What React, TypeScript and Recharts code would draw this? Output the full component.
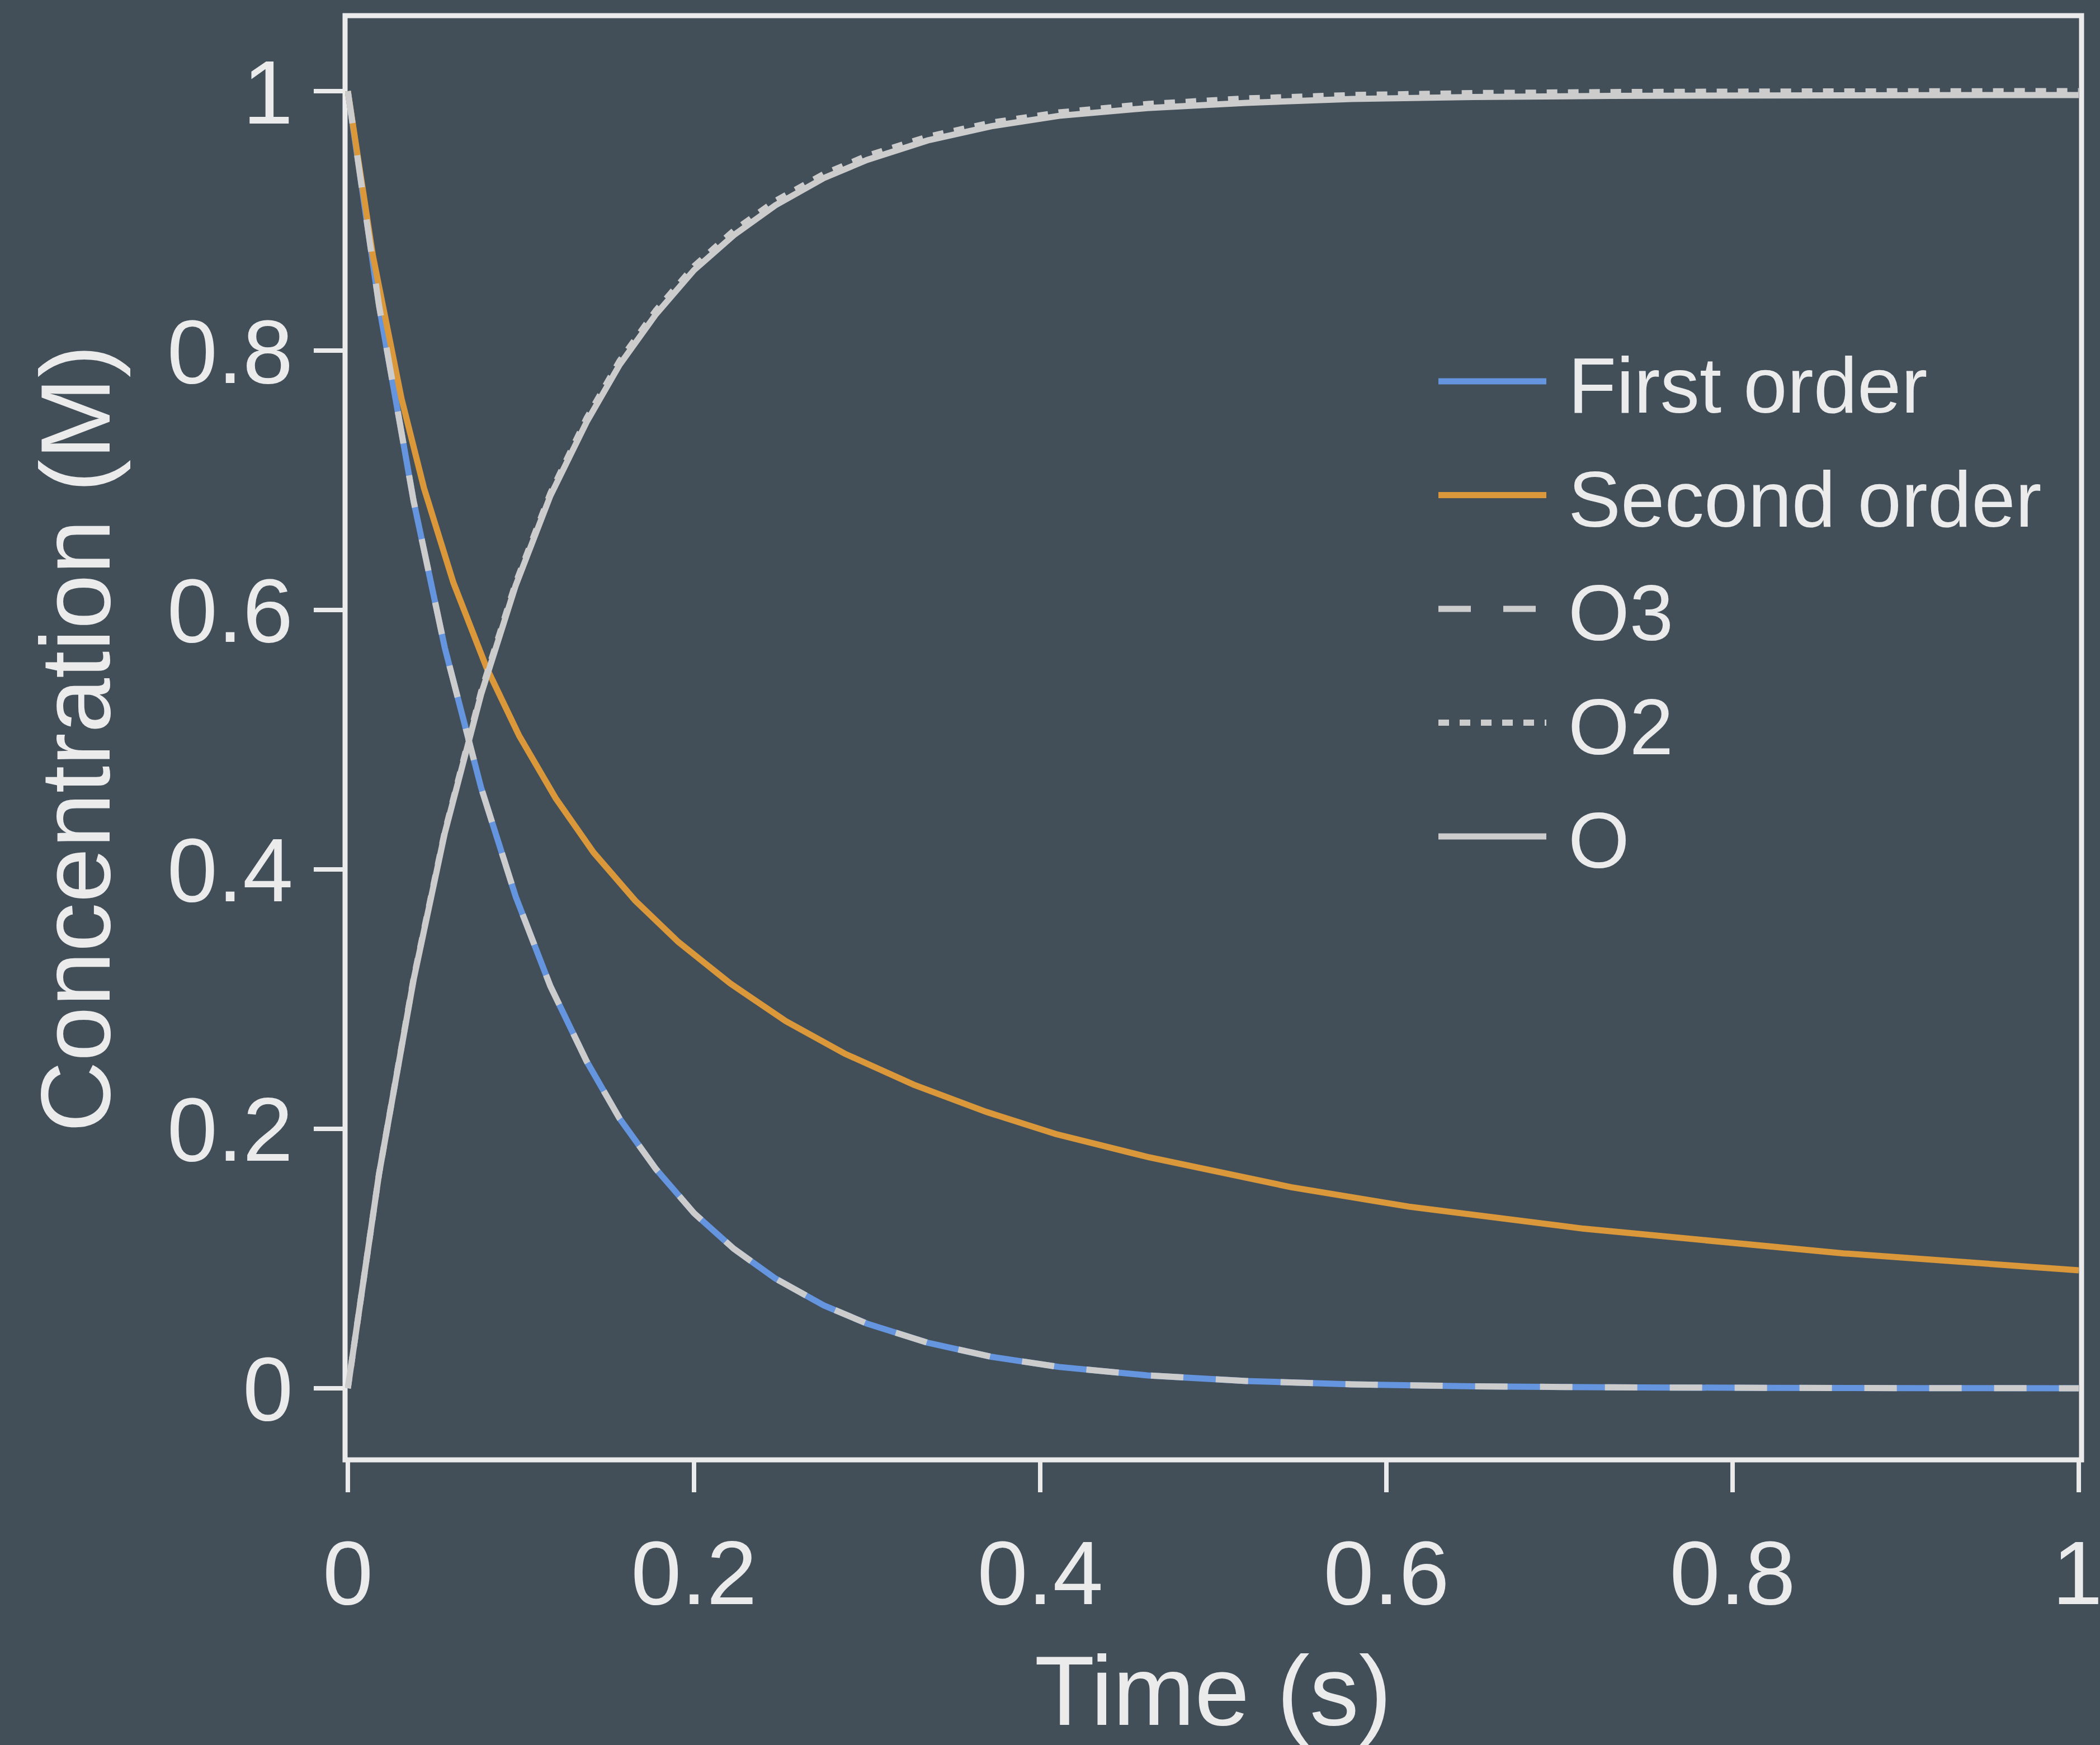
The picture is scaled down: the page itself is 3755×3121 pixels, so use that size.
import { LineChart, Line, XAxis, YAxis, Legend, Label, ReferenceArea } from 'recharts';

// time points (s) for the first-order / ozone species curves
const firstTimes = [0, 0.018, 0.038, 0.056, 0.077, 0.097, 0.117, 0.138, 0.157, 0.178, 0.2, 0.223, 0.247, 0.275, 0.3, 0.335, 0.372, 0.411, 0.462, 0.519, 0.58, 0.65, 0.73, 0.82, 0.91, 1.0];
const firstOrder = [1, 0.835, 0.684, 0.571, 0.463, 0.379, 0.31, 0.252, 0.208, 0.169, 0.135, 0.1075, 0.0846, 0.0639, 0.0498, 0.0351, 0.0242, 0.0164, 0.0099, 0.0056, 0.003, 0.0015, 0.0007, 0.0003, 0.0001, 0];
const o3 = [1, 0.835, 0.684, 0.571, 0.463, 0.379, 0.31, 0.252, 0.208, 0.169, 0.135, 0.1075, 0.0846, 0.0639, 0.0498, 0.0351, 0.0242, 0.0164, 0.0099, 0.0056, 0.003, 0.0015, 0.0007, 0.0003, 0.0001, 0];
const o2 = [0, 0.165, 0.316, 0.429, 0.537, 0.621, 0.69, 0.748, 0.792, 0.831, 0.865, 0.8925, 0.9154, 0.9361, 0.9502, 0.9649, 0.9758, 0.9836, 0.9901, 0.9944, 0.997, 0.9985, 0.9993, 0.9997, 0.9999, 1.0];
const oAtom = [0, 0.165, 0.315, 0.428, 0.535, 0.619, 0.688, 0.745, 0.789, 0.828, 0.862, 0.889, 0.912, 0.933, 0.947, 0.962, 0.973, 0.981, 0.987, 0.991, 0.994, 0.9955, 0.9963, 0.9967, 0.9969, 0.997];

// second-order curve has its own (coarser) time steps
const secondTimes = [0, 0.0145, 0.031, 0.044, 0.061, 0.08, 0.099, 0.12, 0.142, 0.166, 0.191, 0.221, 0.253, 0.287, 0.327, 0.369, 0.409, 0.463, 0.545, 0.613, 0.714, 0.864, 1.0];
const secondOrder = [1, 0.873, 0.763, 0.694, 0.621, 0.556, 0.503, 0.455, 0.413, 0.376, 0.344, 0.312, 0.283, 0.258, 0.234, 0.213, 0.196, 0.178, 0.155, 0.14, 0.123, 0.104, 0.0909];

const xTicks = [0, 0.2, 0.4, 0.6, 0.8, 1];
const yTicks = [0, 0.2, 0.4, 0.6, 0.8, 1];

const BG = '#424F59';
const FG = '#EBEBEB';
const FONT = '"Liberation Sans", Arial, Helvetica, sans-serif';

const zip = (ts: number[], vs: number[]) => ts.map((t, i) => ({ t, v: vs[i] }));

const series = [
  { name: 'First order', data: zip(firstTimes, firstOrder), color: '#6495DE', dash: undefined },
  { name: 'Second order', data: zip(secondTimes, secondOrder), color: '#DA983A', dash: undefined },
  { name: 'O3', data: zip(firstTimes, o3), color: '#CCCCCC', dash: '58 58' },
  { name: 'O2', data: zip(firstTimes, o2), color: '#CCCCCC', dash: '19 19' },
  { name: 'O', data: zip(firstTimes, oAtom), color: '#CCCCCC', dash: undefined },
];

function LegendBox() {
  return (
    <svg width={1150} height={1000} style={{ display: 'block', overflow: 'visible' }}>
      {series.map((s, i) => {
        const y = 102 + i * 203.5;
        return (
          <g key={s.name}>
            <line x1={0} x2={193} y1={y} y2={y} stroke={s.color} strokeWidth={11} strokeDasharray={s.dash} />
            <text x={232} y={y + 56} fill={FG} fontSize={141} fontFamily={FONT}>{s.name}</text>
          </g>
        );
      })}
    </svg>
  );
}

const XTitle = () => (
  <text x={2169} y={3085} textAnchor="middle" fill={FG} fontSize={176} fontFamily={FONT}>Time (s)</text>
);

const YTitle = () => (
  <text x={196} y={1321} transform="rotate(-90, 196, 1321)" textAnchor="middle" fill={FG} fontSize={176} fontFamily={FONT}>
    Concentration (M)
  </text>
);

export default function App() {
  return (
    <div style={{ position: 'absolute', left: 0, top: 0, width: 3755, height: 3121, background: BG }}>
      <LineChart width={3755} height={3121} margin={{ top: 28, right: 33, bottom: 30, left: 317 }}>
        <ReferenceArea
          x1={-0.0016}
          x2={1.0016}
          y1={-0.0552}
          y2={1.0582}
          fill="none"
          stroke={FG}
          strokeWidth={9}
          ifOverflow="visible"
        />
        <XAxis
          dataKey="t"
          type="number"
          domain={[-0.0016, 1.0016]}
          allowDataOverflow
          ticks={xTicks}
          tickFormatter={(v) => String(v)}
          axisLine={false}
          tickLine={{ stroke: FG, strokeWidth: 8 }}
          tickSize={58}
          tickMargin={85}
          height={480}
          tick={{ fill: FG, fontSize: 162, fontFamily: FONT }}
        >
          <Label content={XTitle} />
        </XAxis>
        <YAxis
          type="number"
          domain={[-0.0552, 1.0582]}
          allowDataOverflow
          ticks={yTicks}
          tickFormatter={(v) => String(v)}
          axisLine={false}
          tickLine={{ stroke: FG, strokeWidth: 8 }}
          tickSize={56}
          tickMargin={37}
          width={300}
          tick={{ fill: FG, fontSize: 162, fontFamily: FONT }}
        >
          <Label content={YTitle} />
        </YAxis>
        <Legend
          layout="vertical"
          align="center"
          verticalAlign="middle"
          content={() => <LegendBox />}
          wrapperStyle={{ position: 'absolute', left: 2572, top: 580, width: 1150, height: 1000 }}
        />
        {series.map((s) => (
          <Line
            key={s.name}
            name={s.name}
            data={s.data}
            dataKey="v"
            type="linear"
            stroke={s.color}
            strokeWidth={11}
            strokeDasharray={s.dash}
            dot={false}
            activeDot={false}
            isAnimationActive={false}
          />
        ))}
      </LineChart>
    </div>
  );
}
